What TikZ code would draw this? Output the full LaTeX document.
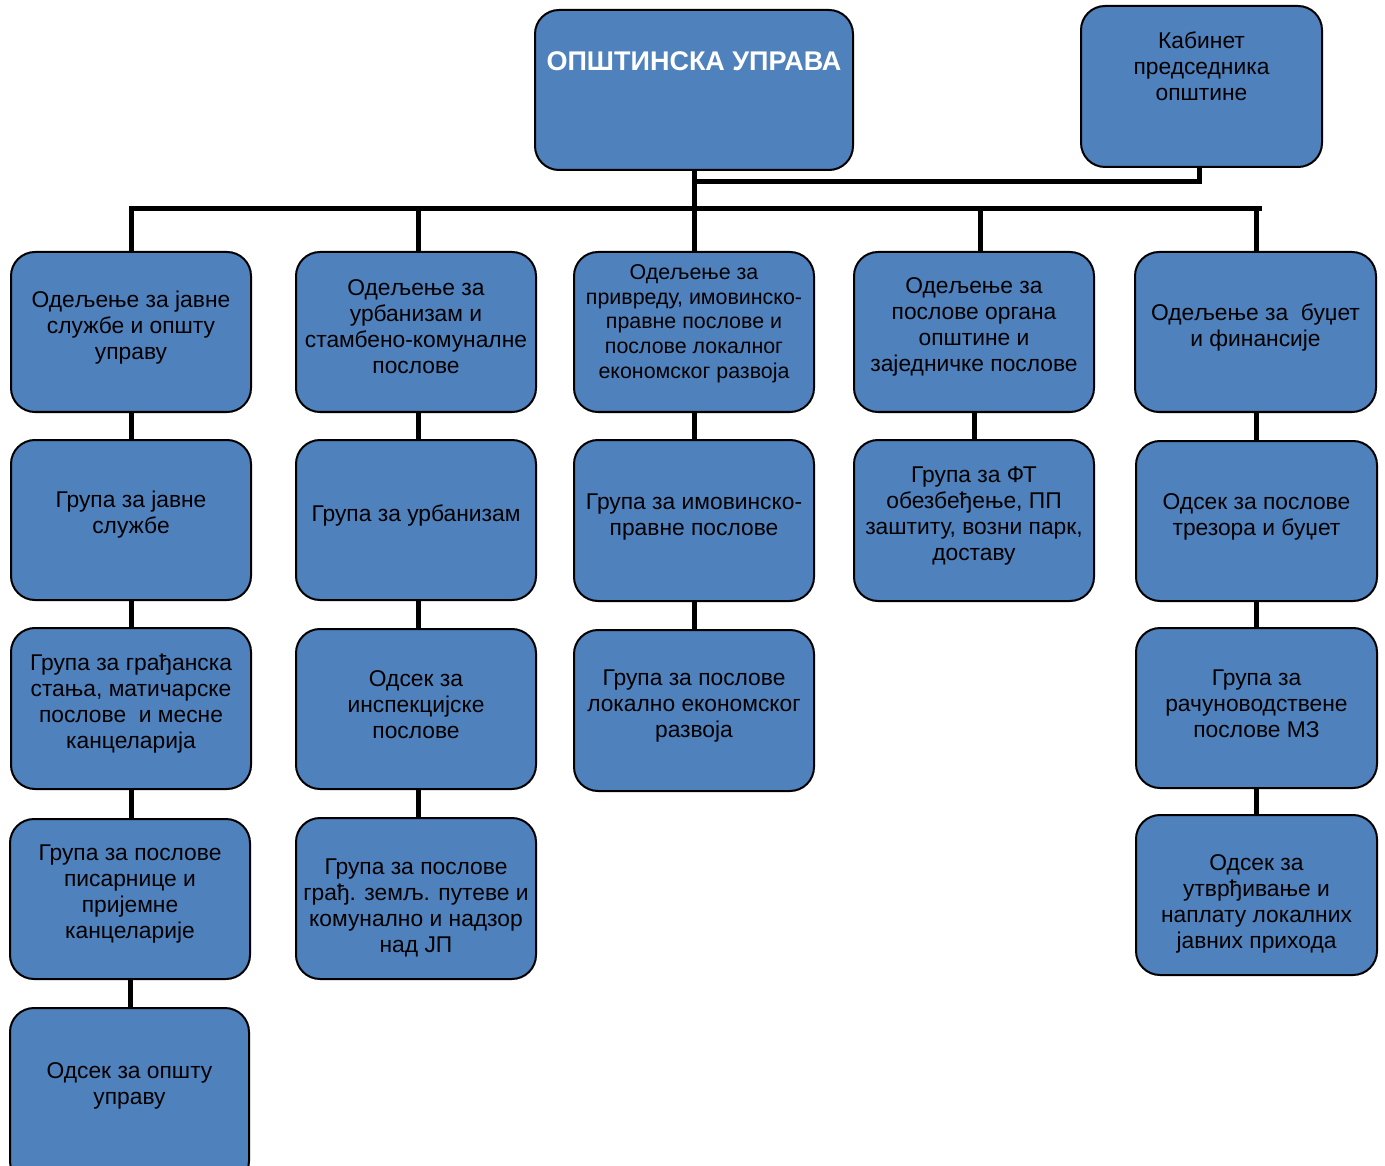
\documentclass[tikz,border=0pt]{standalone}
\usepackage{fontspec}
\setmainfont{Liberation Sans}
\definecolor{boxblue}{HTML}{4F81BD}
\tikzset{
  box/.style={draw=black, line width=2pt, fill=boxblue, rounded corners=24pt, inner sep=0pt},
  txt/.style={align=center, font=\fontsize{22.8}{26}\selectfont, text=black, inner sep=0pt},
  smalltxt/.style={font=\fontsize{21.4}{24.7}\selectfont},
  conn/.style={draw=black, line width=5pt},
}
\newcommand\bx[8][]{%
  \node[box, minimum width={((#5)-(#3))*1pt}, minimum height={((#6)-(#4))*1pt}] (#2) at ({((#3)+(#5))/2},{((#4)+(#6))/2}) {};
  \node[txt,#1] (#2t) at ({((#3)+(#5))/2},{(#8)+1.5}) {#7};
}
\begin{document}
\begin{tikzpicture}[x=1pt,y=-1pt]
\useasboundingbox (0,0) rectangle (1385,1166);
\clip (0,0) rectangle (1385,1166);
\fill[white] (0,0) rectangle (1385,1166);
\node[box, minimum width=318pt, minimum height=160pt] (ou) at (694,90) {};
\node[txt, text=white, font=\fontsize{27}{30}\selectfont\bfseries] (out) at (694,61) {ОПШТИНСКА УПРАВА};
\bx{kab}{1081}{6}{1322}{167}{Кабинет\\председника\\општине}{65}
% column 1
\bx{ca}{11}{252}{251}{412}{Одељење за јавне\\службе и општу\\управу}{326}
\bx{cb}{11}{440}{251}{600}{Група за јавне\\службе}{513}
\bx{cc}{11}{628}{251}{789}{Група за грађанска\\стања, матичарске\\послове\ \ и месне\\канцеларија}{702}
\bx{cd}{10}{819}{250}{979}{Група за послове\\писарнице и\\пријемне\\канцеларије}{893}
\bx{ce}{10}{1008}{249}{1185}{Одсек за општу\\управу}{1084}
% column 2
\bx{da}{296}{252}{536}{412}{Одељење за\\урбанизам и\\стамбено-комуналне\\послове}{325}
\bx{db}{296}{440}{536}{600}{Група за урбанизам}{514}
\bx{dc}{296}{629}{536}{789}{Одсек за\\инспекцијске\\послове}{703}
\bx{dd}{296}{818}{536}{979}{Група за послове\\грађ. земљ. путеве и\\комунално и надзор\\над ЈП}{906}
% column 3
\bx[smalltxt]{ea}{574}{252}{814}{412}{Одељење за\\привреду, имовинско-\\правне послове и\\послове локалног\\економског развоја}{322}
\bx{eb}{574}{440}{814}{601}{Група за имовинско-\\правне послове}{516}
\bx{ec}{574}{630}{814}{791}{Група за послове\\локално економског\\развоја}{705}
% column 4
\bx{fa}{854}{252}{1094}{412}{Одељење за\\послове органа\\општине и\\заједничке послове}{325}
\bx{fb}{854}{440}{1094}{601}{Група за ФТ\\обезбеђење, ПП\\заштиту, возни парк,\\доставу}{514}
% column 5
\bx{ga}{1135}{252}{1376}{412}{Одељење за\ \ буџет\\и финансије}{326}
\bx{gb}{1136}{441}{1377}{601}{Одсек за послове\\трезора и буџет}{515}
\bx{gc}{1136}{628}{1377}{788}{Група за\\рачуноводствене\\послове МЗ}{702}
\bx{gd}{1136}{815}{1377}{975}{Одсек за\\утврђивање и\\наплату локалних\\јавних прихода}{902}
% connectors
\coordinate (busL) at (131,209);
\coordinate (busR) at (1259,209);
\coordinate (kj) at (695,182);
\draw[conn] (ou.south) -- (ou.south |- busL);
\draw[conn] ([xshift=-2pt]kab.south) |- (kj);
\draw[conn, line cap=rect] (busL) -- (busR);
\draw[conn] (busL) -- (ca.north);
\draw[conn] ([xshift=2pt]da.north |- busL) -- ([xshift=2pt]da.north);
\draw[conn] (ea.north |- busL) -- (ea.north);
\draw[conn] ([xshift=6pt]fa.north |- busL) -- ([xshift=6pt]fa.north);
\draw[conn] ([xshift=1pt]ga.north |- busR) -- ([xshift=1pt]ga.north);
\draw[conn] (ca.south) -- (ca.south |- cb.north);
\draw[conn] (cb.south) -- (cb.south |- cc.north);
\draw[conn] (cc.south) -- (cc.south |- cd.north);
\draw[conn] (cd.south) -- (cd.south |- ce.north);
\draw[conn] ([xshift=2pt]da.south) -- ([xshift=2pt]db.north);
\draw[conn] ([xshift=2pt]db.south) -- ([xshift=2pt]dc.north);
\draw[conn] ([xshift=2pt]dc.south) -- ([xshift=2pt]dd.north);
\draw[conn] (ea.south) -- (eb.north);
\draw[conn] (eb.south) -- (ec.north);
\draw[conn] (fa.south) -- (fb.north);
\draw[conn] (gb.north) -- (gb.north |- ga.south);
\draw[conn] (gb.south) -- (gb.south |- gc.north);
\draw[conn] (gc.south) -- (gc.south |- gd.north);
\end{tikzpicture}
\end{document}
